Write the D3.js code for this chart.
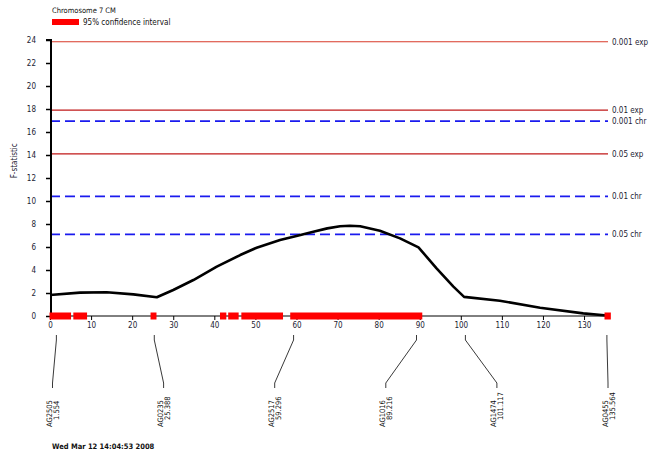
<!DOCTYPE html>
<html><head><meta charset="utf-8">
<script src="https://cdn.jsdelivr.net/npm/d3@7"></script>
<style>
html,body{margin:0;padding:0;background:#fff;}
svg text{font-family:"Liberation Sans Narrow","DejaVu Sans Condensed","Liberation Sans",sans-serif;}
</style>
</head><body>
<svg id="c" width="659" height="455"></svg>
<script>
// ---- data ----
const curvePos = [0, 7.3, 13.8, 20.3, 26.0, 30.0, 34.9, 40.6, 46.3, 50.3, 56.0, 60.0, 64.1, 67.5, 70.6, 73.0, 75.5, 80.3, 85.2, 89.7, 94.1, 98.2, 100.8, 109.5, 119.3, 129.8, 135.564];
const curveF   = [1.83, 2.03, 2.06, 1.88, 1.63, 2.26, 3.13, 4.29, 5.30, 5.94, 6.60, 6.96, 7.33, 7.62, 7.80, 7.85, 7.80, 7.42, 6.75, 5.97, 4.14, 2.55, 1.66, 1.33, 0.72, 0.23, 0.05];
const ciStart = [0, 5.8, 24.6, 41.5, 43.5, 46.7, 58.6, 135.1];
const ciEnd   = [5.0, 8.9, 25.8, 42.8, 45.8, 56.6, 90.5, 136.4];
const thrNames  = ["0.001 exp", "0.01 exp", "0.001 chr", "0.05 exp", "0.01 chr", "0.05 chr"];
const thrValues = [23.85, 17.9, 16.95, 14.1, 10.4, 7.1];
const thrKind   = ["exp", "exp", "chr", "exp", "chr", "chr"];
const markerNames = ["AG2505", "AG0235", "AG2517", "AG1016", "AG1474", "AG0455"];
const markerPos   = [1.554, 25.388, 59.296, 89.216, 101.117, 135.564];
const markerLabels = ["1.554", "25.388", "59.296", "89.216", "101.117", "135.564"];
const yTicks = [0,2,4,6,8,10,12,14,16,18,20,22,24];
const xTicks = [0,10,20,30,40,50,60,70,80,90,100,110,120,130];
const title = "Chromosome 7  CM";
const legendText = "95% confidence interval";
const yTitle = "F-statistic";
const stamp = "Wed Mar 12 14:04:53 2008";

// ---- drawing ----
const svg = d3.select("#c");
const x = d3.scaleLinear().domain([0, 135.564]).range([50, 606.9]);
const y = d3.scaleLinear().domain([0, 24]).range([316, 40]);

// threshold lines
thrValues.forEach((v, i) => {
  const exp = thrKind[i] === "exp";
  svg.append("line")
    .attr("x1", x(0)).attr("x2", 608)
    .attr("y1", y(v)).attr("y2", y(v))
    .attr("stroke", exp ? (i === 0 ? "#d83a2a" : "#c01818") : "#1a1aee")
    .attr("stroke-width", exp ? 1.2 : 1.6)
    .attr("stroke-dasharray", exp ? null : "10,5");
  svg.append("text")
    .attr("x", 612).attr("y", y(v)).attr("dy", "0.35em")
    .attr("font-size", 8).attr("fill", "#223")
    .text(thrNames[i]);
});

// x axis
const xAxis = d3.axisBottom(x).tickValues(xTicks).tickSize(4).tickPadding(2);
const gx = svg.append("g").attr("transform", "translate(0,316)").call(xAxis);
gx.select(".domain").attr("stroke", "#000").attr("stroke-width", 1)
  .attr("d", `M${x(0)},0H${x(135.564)}`);
gx.selectAll("text").attr("font-size", 8).attr("fill", "#223")
  .style("font-family", '"Liberation Sans Narrow","DejaVu Sans Condensed",sans-serif');

// y axis
const yAxis = d3.axisLeft(y).tickValues(yTicks).tickSize(5).tickPadding(10);
const gy = svg.append("g").attr("transform", "translate(51,0)").call(yAxis);
gy.select(".domain").attr("stroke", "#000").attr("stroke-width", 2)
  .attr("d", `M-5,${y(24)}H0V${y(0)}`);
gy.selectAll(".tick line").attr("stroke-width", 1.5);
gy.selectAll("text").attr("font-size", 8).attr("fill", "#223")
  .style("font-family", '"Liberation Sans Narrow","DejaVu Sans Condensed",sans-serif');

// y title
svg.append("text")
  .attr("transform", `translate(17,${(y(12)+y(15))/2}) rotate(-90)`)
  .attr("text-anchor", "middle").attr("font-size", 8).attr("fill", "#223")
  .text(yTitle);

// curve
svg.append("path")
  .datum(curvePos.map((p, i) => [p, curveF[i]]))
  .attr("fill", "none").attr("stroke", "#000").attr("stroke-width", 2.6)
  .attr("stroke-linejoin", "round")
  .attr("d", d3.line().x(d => x(d[0])).y(d => y(d[1])));

// confidence interval bars
svg.selectAll("rect.ci").data(ciStart).enter().append("rect")
  .attr("class", "ci")
  .attr("x", (d) => x(d) - 0.5)
  .attr("width", (d, i) => x(ciEnd[i]) - x(d) + 1)
  .attr("y", y(0) - 3.5).attr("height", 7)
  .attr("fill", "#ff0000");

// marker connectors and labels
const lab = d3.scalePoint().domain(markerNames).range([x(0) + 2.5, 608]);
markerNames.forEach((m, i) => {
  const mx = x(markerPos[i]), lx = lab(m);
  svg.append("path")
    .attr("fill", "none").attr("stroke", "#222").attr("stroke-width", 0.9)
    .attr("d", `M${mx},335V340L${lx},383V388`);
  svg.append("text")
    .attr("transform", `translate(${lx - 0.5},427) rotate(-90)`)
    .attr("font-size", 7.5).attr("fill", "#111").text(m);
  svg.append("text")
    .attr("transform", `translate(${lx + 6.5},420) rotate(-90)`)
    .attr("font-size", 7.5).attr("fill", "#111").text(markerLabels[i]);
});

// title & legend
svg.append("text").attr("x", 52).attr("y", 12.5).attr("font-size", 7.5).attr("fill", "#111").text(title);
svg.append("rect").attr("x", 52).attr("y", 19).attr("width", 27).attr("height", 6).attr("fill", "#ff0000");
svg.append("text").attr("x", 83).attr("y", 25).attr("font-size", 8).attr("fill", "#111").text(legendText);

// timestamp
svg.append("text").attr("x", 52).attr("y", 449).attr("font-size", 7.5).attr("font-weight", "bold").attr("fill", "#111").text(stamp);
</script>
</body></html>
